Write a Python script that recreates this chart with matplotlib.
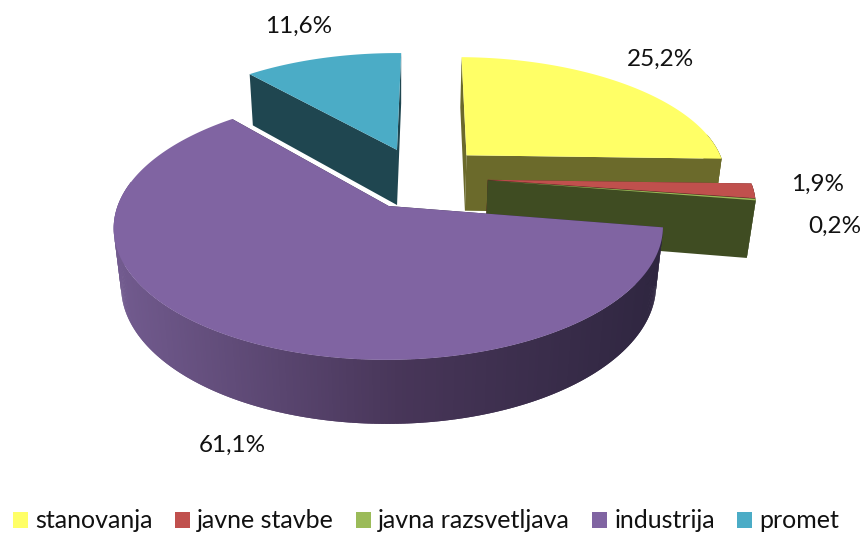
import numpy as np
import matplotlib
matplotlib.use("Agg")
import matplotlib.pyplot as plt
from matplotlib.patches import Polygon, Patch

# ---- data ----
categories = ["stanovanja", "javne stavbe", "javna razsvetljava", "industrija", "promet"]
shares = [25.2, 1.9, 0.2, 61.1, 11.6]

# ---- style ----
top_colors = ["#ffff66", "#c0504d", "#9bbb59", "#8064a2", "#4bacc6"]
cut_colors = ["#6b6a2b", "#5c2524", "#3f4c22", "#2f2640", "#1f4650"]
explode_xy = [(0.262, 0.42), (0.335, 0.21), (0.335, 0.205), (-0.042, 0.0), (-0.012, 0.468)]
draw_order = [4, 0, 1, 2, 3]
first_angle = 1.0
label_xy = [(660, 59), (818, 184), (835, 226), (232, 445), (299, 26)]

# perspective camera, in pixels
XC, YV, H, A, K = 400.0, -590.0, 796.0, 271.0, 0.162
D, M = 80.0, 0.026


def project(x, y, z):
    w = 1 + K * y + M * z
    return XC + A * x / w, YV + (H + D * z) / w


def rim_xy(deg, off):
    t = np.radians(deg)
    return off[0] + np.sin(t), off[1] + np.cos(t)


def mix_wall(px):
    stops_x = [113, 400, 663]
    stops = np.array([[0x72, 0x5b, 0x8f], [0x48, 0x36, 0x59], [0x2f, 0x26, 0x40]]) / 255
    return [float(np.interp(px, stops_x, stops[:, i])) for i in range(3)]


fig = plt.figure(figsize=(8.64, 5.33), dpi=100, facecolor="white")
ax = fig.add_axes([0, 0, 1, 1])
ax.set_xlim(0, 864)
ax.set_ylim(533, 0)
ax.axis("off")

edges = first_angle + np.concatenate([[0], np.cumsum(shares)]) * 3.6


def quad(p, color, zorder):
    ax.add_patch(Polygon(p, closed=True, facecolor=color, edgecolor="none",
                         linewidth=0, zorder=zorder))


for rank, i in enumerate(draw_order):
    a0, a1 = edges[i], edges[i + 1]
    off = explode_xy[i]
    arc = np.linspace(a0, a1, max(4, int((a1 - a0) * 1.5)))
    z0 = 10 * rank

    # cut faces, far one first
    faces = sorted([a0, a1], key=lambda a: -np.cos(np.radians(a)))
    for a in faces:
        rx, ry = rim_xy(a, off)
        p = [project(off[0], off[1], 0), project(rx, ry, 0),
             project(rx, ry, 1), project(off[0], off[1], 1)]
        quad(p, cut_colors[i], z0 + 1)

    # outer wall: only the part facing the viewer, each strip overlapping the next
    front = [a for a in arc if np.cos(np.radians(a)) < 0.2]
    for j in range(len(front) - 1):
        strip = front[j:j + 3]
        upper = [project(*rim_xy(a, off), 0) for a in strip]
        lower = [project(*rim_xy(a, off), 1) for a in strip[::-1]]
        col = mix_wall(upper[0][0]) if i == 3 else cut_colors[i]
        quad(upper + lower, col, z0 + 2)

    # top face
    pts = [project(off[0], off[1], 0)] + [project(*rim_xy(a, off), 0) for a in arc]
    quad(pts, top_colors[i], z0 + 3)

font = ["Lato", "DejaVu Sans"]
for v, (lx, ly) in zip(shares, label_xy):
    ax.text(lx, ly, f"{v:.1f}".replace(".", ",") + "%", ha="center", va="center",
            fontsize=17.5, color="#111111", family=font, zorder=100)

handles = [Patch(facecolor=c, edgecolor="none") for c in top_colors]
leg = ax.legend(handles, categories, ncol=5, loc="center", bbox_to_anchor=(426 / 864, 1 - 521 / 533),
                bbox_transform=ax.transAxes, frameon=False, handlelength=0.6, handleheight=0.6,
                handletextpad=0.28, columnspacing=0.89, borderpad=0, borderaxespad=0,
                prop={"family": font, "size": 18})
for t in leg.get_texts():
    t.set_color("#111111")

fig.savefig("out.png", dpi=100, facecolor="white")
